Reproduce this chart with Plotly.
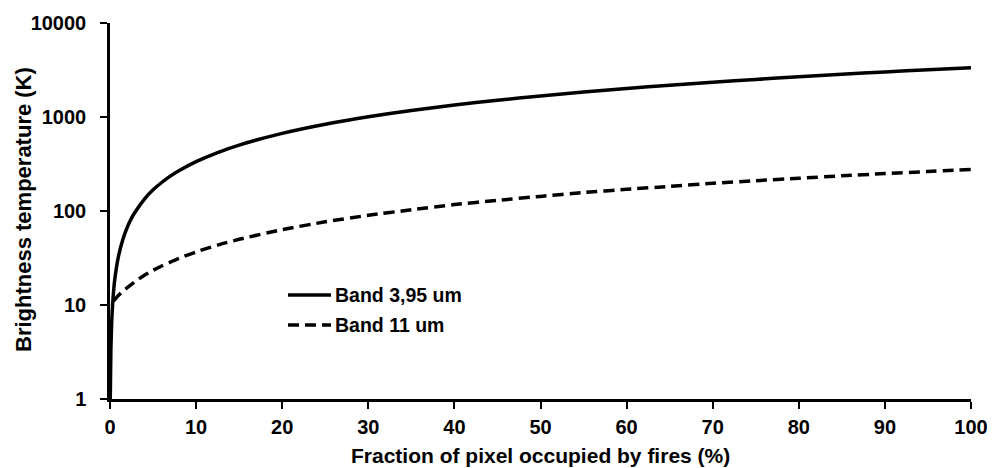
import plotly.graph_objects as go

# Fraction of pixel occupied by fires (%) and brightness temperatures (K)
frac_395 = [0.03, 0.1, 0.2, 0.3, 0.5, 0.75, 1, 1.5, 2, 2.5, 3, 4, 5, 6, 7, 8, 10, 12.5, 15,
            20, 25, 30, 35, 40, 45, 50, 55, 60, 65, 70, 75, 80, 85, 90, 95, 100]
tb_395 = [1, 3.3, 6.7, 10, 17, 25, 33.5, 50, 67, 84, 100, 134, 168, 201, 235, 268, 335,
          419, 503, 670, 838, 1005, 1173, 1340, 1508, 1675, 1843, 2010, 2178, 2345,
          2513, 2680, 2848, 3015, 3183, 3350]

frac_11 = [0.4, 1, 2, 3, 4, 5, 6, 8, 10, 12.5, 15, 20, 25, 30, 35, 40, 45, 50, 55,
           60, 65, 70, 75, 80, 85, 90, 95, 100]
tb_11 = [11, 12.7, 15.3, 18, 20.7, 23.4, 26, 31.3, 36.7, 43.4, 50, 63.4, 76.7, 90, 103,
         117, 130, 143, 157, 170, 183, 197, 210, 223, 237, 250, 263, 277]

x_ticks = list(range(0, 101, 10))
y_ticks = [1, 10, 100, 1000, 10000]
y_tick_text = ["1", "10", "100", "1000", "10000"]
legend_names = ["Band 3,95 um", "Band 11 um"]

FONT = "Liberation Sans, Arial, sans-serif"
DASH = "11px,6px"

fig = go.Figure()
fig.add_trace(go.Scatter(
    x=frac_395, y=tb_395, mode="lines", name=legend_names[0], showlegend=False,
    line=dict(color="black", width=3.5, shape="spline", smoothing=0.6),
))
fig.add_trace(go.Scatter(
    x=frac_11, y=tb_11, mode="lines", name=legend_names[1], showlegend=False,
    line=dict(color="black", width=3.5, dash=DASH, shape="spline", smoothing=0.6),
))

axis_common = dict(
    showline=True, linecolor="black", linewidth=2.5,
    ticks="outside", ticklen=7, tickwidth=2, tickcolor="black",
    showgrid=False, zeroline=False, automargin=False,
    tickfont=dict(family=FONT, size=20, color="black", weight="bold"),
)

fig.update_xaxes(
    range=[0, 100], tickvals=x_ticks, ticklabelstandoff=1,
    **axis_common,
)
fig.update_yaxes(
    type="log", range=[0, 4], tickvals=y_ticks, ticktext=y_tick_text,
    ticklabelstandoff=10,
    **axis_common,
)

# Axis titles
title_font = dict(family=FONT, size=21, color="black", weight="bold")
fig.add_annotation(
    text="Fraction of pixel occupied by fires (%)", xref="paper", yref="paper",
    x=(540 - 110) / 861, y=-(455 - 399) / 376, xanchor="center", yanchor="middle",
    showarrow=False, font=title_font,
)
fig.add_annotation(
    text="Brightness temperature (K)", xref="paper", yref="paper",
    x=-(110 - 23) / 861, y=(399 - 210) / 376, xanchor="center", yanchor="middle",
    textangle=-90, showarrow=False,
    font=dict(family=FONT, size=22, color="black", weight="bold"),
)

# Legend drawn as sample lines with labels
legend_font = dict(family=FONT, size=19.5, color="black", weight="bold")
legend_rows = [(295, "solid"), (325, DASH)]
for (row_y, dash), label in zip(legend_rows, legend_names):
    yp = (399 - row_y) / 376
    fig.add_shape(
        type="line", xref="paper", yref="paper",
        x0=(288 - 110) / 861, x1=(331 - 110) / 861, y0=yp, y1=yp,
        line=dict(color="black", width=3.5, dash=dash),
    )
    fig.add_annotation(
        text=label, xref="paper", yref="paper",
        x=(333 - 110) / 861, y=yp, xanchor="left", yanchor="middle",
        showarrow=False, font=legend_font,
    )

fig.update_layout(
    width=992, height=468,
    margin=dict(l=110, r=21, t=23, b=69),
    paper_bgcolor="white", plot_bgcolor="white",
    showlegend=False,
)

fig.write_html("out.html")
